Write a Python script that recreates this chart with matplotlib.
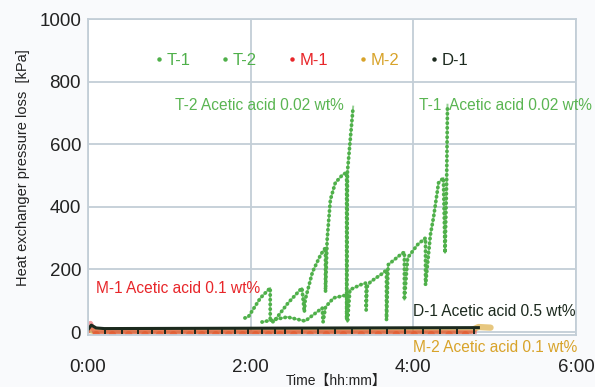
import matplotlib
matplotlib.use("Agg")
import matplotlib.pyplot as plt
from matplotlib.lines import Line2D

plt.rcParams["font.family"] = ["Liberation Sans", "DejaVu Sans"]

# --- data (time in hours, pressure loss in kPa) ---
t2_time = [1.93, 1.97, 2.12, 2.18, 2.24, 2.24, 2.28, 2.46, 2.63, 2.66, 2.67, 2.76,
           2.86, 2.92, 2.92, 2.94, 2.98, 3.04, 3.13, 3.18, 3.18, 3.19, 3.26]
t2_kpa = [45, 48, 109, 125, 141, 38, 32, 93, 141, 64, 103, 192,
          247, 270, 128, 295, 423, 477, 503, 510, 40, 513, 721]

t1_time = [2.14, 2.45, 2.67, 2.88, 2.89, 2.92, 3.02, 3.19, 3.19, 3.22, 3.35, 3.42,
           3.42, 3.43, 3.47, 3.63, 3.67, 3.67, 3.69, 3.84, 3.89, 3.89, 3.93, 4.05,
           4.15, 4.15, 4.21, 4.25, 4.31, 4.37, 4.39, 4.41, 4.42]
t1_kpa = [32, 48, 35, 77, 32, 80, 109, 119, 32, 135, 151, 157,
          70, 144, 160, 189, 199, 38, 215, 247, 256, 103, 237, 279,
          301, 151, 311, 369, 477, 493, 253, 487, 727]

d1_time = [0.0, 0.04, 0.1, 0.2, 4.8]
d1_kpa = [8, 22, 13, 11, 14]
d1_dips = [0.21, 0.42, 0.62, 0.79, 0.95, 1.16, 1.32, 1.48, 1.65, 1.81, 1.97, 2.14,
           2.30, 2.42, 2.63, 2.83, 3.04, 3.25, 3.47, 3.68, 3.90, 4.12, 4.33, 4.54, 4.74]
d1_dip_kpa = -6

m1_time = [0.0, 0.03, 0.08, 4.75]
m1_kpa = [5, 28, 0, -2]
m1_dips = [0.1, 0.3, 0.5, 0.7, 0.88, 1.05, 1.25, 1.4, 1.57, 1.73, 1.9, 2.06, 2.22,
           2.36, 2.53, 2.73, 2.93, 3.14, 3.36, 3.57, 3.79, 4.01, 4.22, 4.44, 4.64]
m1_dip_kpa = -9

m2_time = [0.0, 0.05, 4.7, 4.8, 4.95]
m2_kpa = [10, 4, 4, 16, 14]

series_names = ["T-1", "T-2", "M-1", "M-2", "D-1"]
series_colors = ["#4fb04a", "#4fb04a", "#e8262a", "#d8a32a", "#1c2a1e"]

x_ticks = [0, 2, 4, 6]
x_labels = ["0:00", "2:00", "4:00", "6:00"]
y_ticks = [0, 200, 400, 600, 800, 1000]

# --- figure ---
fig = plt.figure(figsize=(5.95, 3.87), dpi=100)
fig.set_facecolor("#f9fafc")
ax = fig.add_axes([0.148, 0.134, 0.820, 0.816])
ax.set_facecolor("#ffffff")

grid_c = "#c3ced7"
ax.set_xlim(0, 6)
ax.set_ylim(-10, 1000)
ax.set_xticks(x_ticks)
ax.set_xticklabels(x_labels)
ax.set_yticks(y_ticks)
ax.grid(True, color=grid_c, lw=1.3)
ax.set_axisbelow(True)
for s in ax.spines.values():
    s.set_color(grid_c)
    s.set_linewidth(1.3)
ax.tick_params(length=0, labelsize=13.5, colors="#222222")
ax.tick_params(axis="x", pad=17)
ax.tick_params(axis="y", pad=5)

# M-2 and M-1 (bottom, noisy)
ax.plot(m2_time, m2_kpa, color=series_colors[3], lw=4.5, alpha=0.6, solid_capstyle="round")
ax.plot(m1_time, m1_kpa, color=series_colors[2], lw=3.5, alpha=0.45)
ax.scatter(m1_dips, [m1_dip_kpa] * len(m1_dips), s=30, color="#f05a3a", alpha=0.7,
           edgecolors="none")

# T-1, T-2 scattered points drawn as dotted traces
dots = dict(lw=2.8, linestyle=(0, (0.01, 1.2)), dash_capstyle="round")
ax.plot(t2_time, t2_kpa, color=series_colors[1], **dots)
ax.plot(t1_time, t1_kpa, color=series_colors[0], **dots)
ax.plot(t2_time, t2_kpa, color=series_colors[1], lw=1.4, alpha=0.6)
ax.plot(t1_time, t1_kpa, color=series_colors[0], lw=1.4, alpha=0.6)

# D-1
ax.plot(d1_time, d1_kpa, color=series_colors[4], lw=2.2)
ax.vlines(d1_dips, d1_dip_kpa, 12, color=series_colors[4], lw=1.4)

# legend
handles = [Line2D([], [], marker="o", ms=2.2, ls="", color=c) for c in series_colors]
leg = ax.legend(handles, series_names, loc="center", bbox_to_anchor=(0.458, 0.87),
                ncol=5, frameon=False, fontsize=12, handlelength=0.5,
                handletextpad=0.2, columnspacing=1.85, labelcolor=series_colors)

# annotations
fs = 11.2
ax.text(1.07, 726, "T-2 Acetic acid 0.02 wt%", color="#5ab552", fontsize=fs, va="center")
ax.text(4.07, 726, "T-1  Acetic acid 0.02 wt%", color="#5ab552", fontsize=fs, va="center")
ax.text(0.1, 140, "M-1 Acetic acid 0.1 wt%", color="#e8262a", fontsize=fs, va="center")
ax.text(4.0, 67, "D-1 Acetic acid 0.5 wt%", color="#1c2a1e", fontsize=fs, va="center")
ax.text(4.0, -48, "M-2 Acetic acid 0.1 wt%", color="#d8a32a", fontsize=fs, va="center")

ax.set_ylabel("Heat exchanger pressure loss  [kPa]", fontsize=10.5, color="#222222")
ax.yaxis.set_label_coords(-0.12, 0.53)
fig.text(0.565, 0.015, "Time\u3010hh:mm\u3011", fontsize=10, ha="center", va="center",
         color="#222222", family=["Liberation Sans", "Noto Sans CJK JP", "DejaVu Sans"])

fig.savefig("out.png", dpi=100, facecolor=fig.get_facecolor())
